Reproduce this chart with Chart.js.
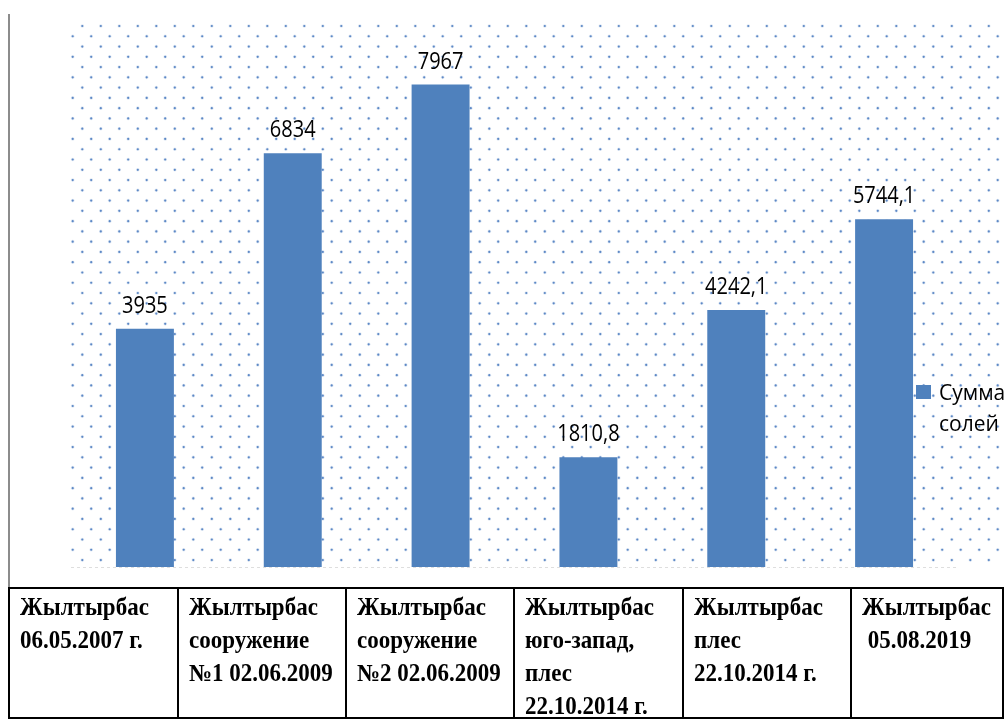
<!DOCTYPE html>
<html>
<head>
<meta charset="utf-8">
<script src="https://cdn.jsdelivr.net/npm/chart.js@4/dist/chart.umd.min.js"></script>
<style>
  body { margin: 0; background: #fff; }
  #wrap { position: relative; width: 1006px; height: 720px; overflow: hidden; }
  #chart { position: absolute; left: 0; top: 0; }
  #leftLine { position: absolute; left: 8px; top: 14px; width: 2px; height: 574px; background: #8c8c8c; }
  .cell {
    position: absolute; top: 587px; height: 132px; box-sizing: border-box;
    border-top: 2px solid #000; border-bottom: 2px solid #000; border-left: 2px solid #000;
    font-family: "Liberation Serif", "Times New Roman", serif; font-weight: bold;
    font-size: 23px; line-height: 31px; color: #000; white-space: pre;
    padding-left: 10px; padding-top: 2px;
  }
  .cell span { display: inline-block; transform: scale(1, 1.06); transform-origin: left top; }
  .cell.last { border-right: 2px solid #000; }
</style>
</head>
<body>
<div id="wrap">
  <canvas id="chart" width="1006" height="588"></canvas>
  <div id="leftLine"></div>
</div>
<script>
// category text as it stands in the table cells (one entry per line)
const categories = [
    ['Жылтырбас', '06.05.2007 г.'],
    ['Жылтырбас', 'сооружение', '№1 02.06.2009'],
    ['Жылтырбас', 'сооружение', '№2 02.06.2009'],
    ['Жылтырбас', 'юго-запад,', 'плес', '22.10.2014 г.'],
    ['Жылтырбас', 'плес', '22.10.2014 г.'],
    ['Жылтырбас', ' 05.08.2019']
];
const values = [3935, 6834, 7967, 1810.8, 4242.1, 5744.1];
const seriesName = ['Сумма', 'солей'];

const barColor = '#4f81bd';

// table under the chart
const colEdges = [8, 177, 345, 513, 682, 850, 1004];
const wrap = document.getElementById('wrap');
categories.forEach((lines, i) => {
    const d = document.createElement('div');
    d.className = 'cell' + (i === categories.length - 1 ? ' last' : '');
    d.style.left = colEdges[i] + 'px';
    d.style.width = (colEdges[i + 1] - colEdges[i] + (i === categories.length - 1 ? 0 : 2)) + 'px';
    const s = document.createElement('span');
    s.textContent = lines.join('\n');
    d.appendChild(s);
    wrap.appendChild(d);
});

// dotted fill behind the bars
const dotsPlugin = {
    id: 'dots',
    beforeDatasetsDraw(chart) {
        const ctx = chart.ctx;
        ctx.save();
        let row = 0;
        for (let y = 26; y < 566; y += 10.27, row++) {
            const x0 = row % 2 === 0 ? 82.3 : 72.7;
            for (let x = x0; x < 1004; x += 18.5) {
                ctx.fillStyle = 'rgba(79,129,189,0.18)';
                ctx.beginPath();
                ctx.arc(x, y, 1.8, 0, Math.PI * 2);
                ctx.fill();
                ctx.fillStyle = 'rgba(70,120,190,0.85)';
                ctx.beginPath();
                ctx.arc(x, y, 1.1, 0, Math.PI * 2);
                ctx.fill();
            }
        }
        // faint base line
        ctx.strokeStyle = 'rgba(190,190,190,0.5)';
        ctx.setLineDash([3, 3]);
        ctx.beginPath();
        ctx.moveTo(chart.chartArea.left, chart.chartArea.bottom + 0.5);
        ctx.lineTo(chart.chartArea.right, chart.chartArea.bottom + 0.5);
        ctx.stroke();
        ctx.restore();
    }
};

// value labels on top of bars
const labelsPlugin = {
    id: 'valueLabels',
    afterDatasetsDraw(chart) {
        const ctx = chart.ctx;
        const meta = chart.getDatasetMeta(0);
        ctx.save();
        ctx.font = '23px "Open Sans"';
        ctx.fillStyle = '#000';
        ctx.textAlign = 'center';
        ctx.textBaseline = 'alphabetic';
        meta.data.forEach((bar, i) => {
            const txt = String(values[i]).replace('.', ',');
            ctx.save();
            ctx.translate(bar.x, bar.y - 16);
            ctx.scale(0.87, 1);
            ctx.fillText(txt, 0, 0);
            ctx.restore();
        });
        ctx.restore();
    }
};

// legend at right, text wrapped on two lines
const legendPlugin = {
    id: 'sideLegend',
    afterDraw(chart) {
        const ctx = chart.ctx;
        ctx.save();
        ctx.fillStyle = barColor;
        ctx.fillRect(916, 385, 15, 14);
        ctx.fillStyle = '#000';
        ctx.font = '21px "Open Sans"';
        ctx.textAlign = 'left';
        ctx.fillText(seriesName[0], 939, 400);
        ctx.fillText(seriesName[1], 939, 431);
        ctx.restore();
    }
};

const chart = new Chart(document.getElementById('chart'), {
    type: 'bar',
    data: {
        labels: categories.map(c => c.join(' ')),
        datasets: [{
            label: seriesName.join(' '),
            data: values,
            backgroundColor: barColor,
            borderWidth: 0,
            categoryPercentage: 1,
            barPercentage: 0.392
        }]
    },
    options: {
        responsive: false,
        animation: false,
        layout: { padding: { left: 71, right: 48, top: 22, bottom: 21 } },
        plugins: {
            legend: { display: false },
            tooltip: { enabled: false }
        },
        scales: {
            x: { display: false },
            y: { display: false, min: 0, max: 9000 }
        }
    },
    plugins: [dotsPlugin, labelsPlugin, legendPlugin]
});
</script>
</body>
</html>
